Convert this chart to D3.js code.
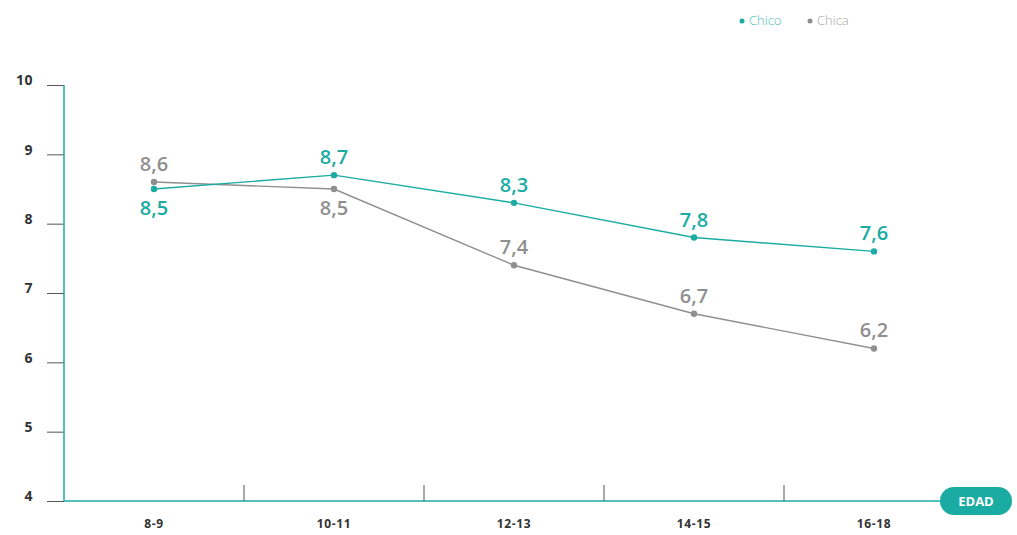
<!DOCTYPE html>
<html>
<head>
<meta charset="utf-8">
<script src="https://cdn.jsdelivr.net/npm/d3@7"></script>
<style>
  body { margin: 0; background: #fff; }
  svg { display: block; font-family: "Open Sans", sans-serif; }
</style>
</head>
<body>
<svg id="chart" width="1017" height="535"></svg>
<script>
// data
var edades   = ['8-9', '10-11', '12-13', '14-15', '16-18'];
var chico    = [8.5, 8.7, 8.3, 7.8, 7.6];
var chica    = [8.6, 8.5, 7.4, 6.7, 6.2];
var yTicks   = [4, 5, 6, 7, 8, 9, 10];
// label below the point (true) or above
var chicoBelow = [true, false, false, false, false];
var chicaBelow = [false, true, false, false, false];

var teal = '#1aaba3';
var gris = '#8f8f8f';

var svg = d3.select('#chart');

var x = d3.scaleBand().domain(edades).range([64, 964]);
var y = d3.scaleLinear().domain([4, 10]).range([501, 85]);

function cx(d, i) { return x(edades[i]) + x.bandwidth() / 2; }

// y axis
var yAxis = svg.append('g')
               .attr('transform', 'translate(64,0)')
               .call(d3.axisLeft(y).tickValues(yTicks).tickSize(17).tickFormat(d3.format('d')));
yAxis.select('.domain').remove();
yAxis.selectAll('.tick line').attr('stroke', '#555').attr('stroke-width', 1);
yAxis.selectAll('.tick text')
     .attr('x', -31)
     .attr('dy', '-0.02em')
     .style('font-size', '14px')
     .style('font-weight', 700)
     .style('letter-spacing', '0.5px')
     .style('fill', '#333')
     .style('font-family', '"Open Sans", sans-serif');

svg.append('line')
   .attr('x1', 64).attr('x2', 64)
   .attr('y1', y(10)).attr('y2', y(4))
   .attr('stroke', teal).attr('stroke-width', 1.5);

// x axis
var xAxis = svg.append('g')
               .attr('transform', 'translate(0,' + y(4) + ')')
               .call(d3.axisBottom(x).tickSize(0));
xAxis.select('.domain').remove();
xAxis.selectAll('.tick text')
     .attr('dy', '2.0em')
     .style('font-size', '12px')
     .style('font-weight', 700)
     .style('letter-spacing', '0.6px')
     .style('fill', '#333')
     .style('font-family', '"Open Sans", sans-serif');

svg.append('line')
   .attr('x1', 64).attr('x2', 950)
   .attr('y1', y(4)).attr('y2', y(4))
   .attr('stroke', teal).attr('stroke-width', 1.5);

svg.selectAll('.xsep')
   .data(edades.slice(1))
   .enter()
   .append('line')
   .attr('class', 'xsep')
   .attr('x1', function(d) { return x(d); })
   .attr('x2', function(d) { return x(d); })
   .attr('y1', y(4) - 16)
   .attr('y2', y(4))
   .attr('stroke', '#555')
   .attr('stroke-width', 1);

// EDAD pill
svg.append('rect')
   .attr('x', 940).attr('y', y(4) - 14)
   .attr('width', 72).attr('height', 28)
   .attr('rx', 14)
   .attr('fill', teal);
svg.append('text')
   .attr('x', 976).attr('y', y(4) + 5)
   .attr('text-anchor', 'middle')
   .style('font-size', '13px')
   .style('font-weight', 700)
   .style('fill', '#fff')
   .text('EDAD');

// series
function drawSeries(values, color, below) {
  var line = d3.line()
               .x(function(d, i) { return cx(d, i); })
               .y(function(d) { return y(d); });

  svg.append('path')
     .datum(values)
     .attr('d', line)
     .attr('fill', 'none')
     .attr('stroke', color)
     .attr('stroke-width', 1.4);

  svg.append('g').selectAll('circle')
     .data(values)
     .enter()
     .append('circle')
     .attr('cx', cx)
     .attr('cy', function(d) { return y(d); })
     .attr('r', 3.2)
     .attr('fill', color);

  svg.append('g').selectAll('text')
     .data(values)
     .enter()
     .append('text')
     .attr('x', cx)
     .attr('y', function(d, i) { return below[i] ? y(d) + 26 : y(d) - 11; })
     .attr('text-anchor', 'middle')
     .style('font-size', '20px')
     .style('font-weight', 600)
     .style('fill', color)
     .text(function(d) { return d.toFixed(1).replace('.', ','); });
}

drawSeries(chica, gris, chicaBelow);
drawSeries(chico, teal, chicoBelow);

// legend
var legend = [{name: 'Chico', color: teal, x: 742}, {name: 'Chica', color: gris, x: 810}];
var lg = svg.append('g').selectAll('g')
            .data(legend)
            .enter()
            .append('g')
            .attr('transform', function(d) { return 'translate(' + d.x + ',21)'; });
lg.append('circle').attr('r', 2.5).attr('fill', function(d) { return d.color; });
lg.append('text')
  .attr('x', 7).attr('y', 4)
  .style('font-size', '13px')
  .style('font-weight', 300)
  .style('fill', function(d) { return d.name == 'Chico' ? '#4dbdb6' : '#a8a8a8'; })
  .text(function(d) { return d.name; });
</script>
</body>
</html>
